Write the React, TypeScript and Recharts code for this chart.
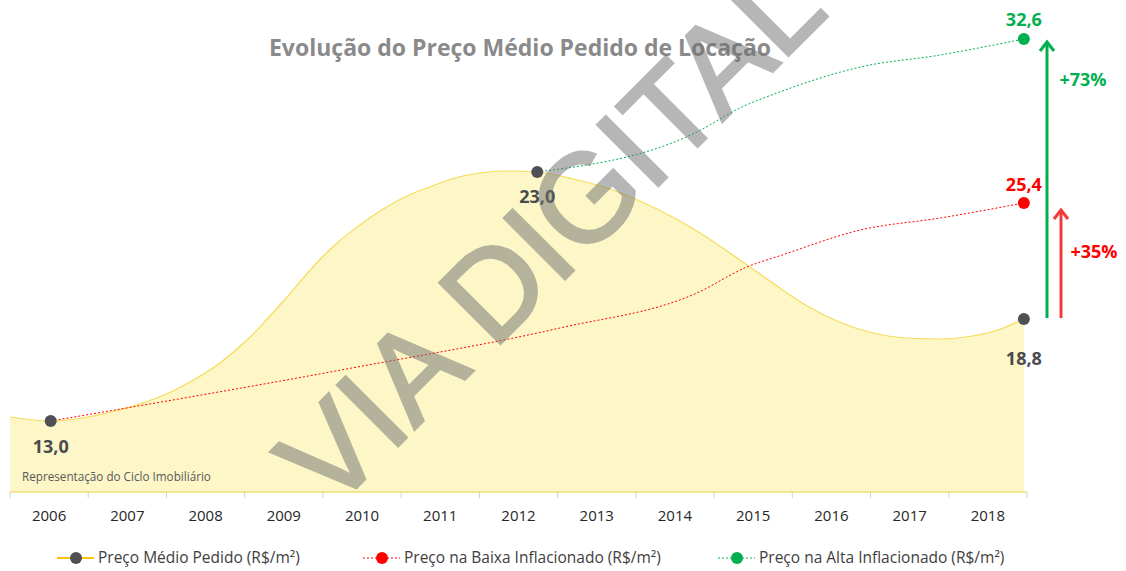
import React from "react";
import { ComposedChart, Area, Line, XAxis, YAxis } from "recharts";

// layout of the picture
const W = 1126;
const H = 571;
const PLOT_LEFT = 10;
const PLOT_RIGHT = 1027;
const PLOT_TOP = 32;
const PLOT_BOTTOM = 492;
const X_MIN = 2006;
const X_MAX = 2019;
const Y_MAX = 46;
const FONT = "'Open Sans', 'Noto Sans', sans-serif";

// category boundaries and year labels
const yearTicks = [2006, 2007, 2008, 2009, 2010, 2011, 2012, 2013, 2014, 2015, 2016, 2017, 2018, 2019];
const yearLabels = ["2006", "2007", "2008", "2009", "2010", "2011", "2012", "2013", "2014", "2015", "2016", "2017", "2018"];

// "Representação do Ciclo Imobiliário" – shape of the cycle (chart units, not R$/m²)
const ciclo = [
  { x: 2006.0, y: 7.5 },
  { x: 2006.52, y: 7.1 },
  { x: 2007.24, y: 7.9 },
  { x: 2008.16, y: 10.4 },
  { x: 2008.7, y: 13.0 },
  { x: 2009.07, y: 15.5 },
  { x: 2009.3, y: 17.4 },
  { x: 2009.53, y: 19.4 },
  { x: 2009.76, y: 21.5 },
  { x: 2009.98, y: 23.4 },
  { x: 2010.21, y: 25.1 },
  { x: 2010.44, y: 26.5 },
  { x: 2010.73, y: 28.1 },
  { x: 2011.02, y: 29.4 },
  { x: 2011.36, y: 30.5 },
  { x: 2011.69, y: 31.4 },
  { x: 2012.0, y: 31.9 },
  { x: 2012.35, y: 32.1 },
  { x: 2012.74, y: 32.0 },
  { x: 2013.2, y: 31.3 },
  { x: 2013.63, y: 30.4 },
  { x: 2014.05, y: 29.1 },
  { x: 2014.47, y: 27.5 },
  { x: 2014.9, y: 25.5 },
  { x: 2015.33, y: 23.2 },
  { x: 2015.75, y: 20.9 },
  { x: 2016.19, y: 18.6 },
  { x: 2016.6, y: 17.0 },
  { x: 2017.03, y: 15.9 },
  { x: 2017.45, y: 15.4 },
  { x: 2017.89, y: 15.3 },
  { x: 2018.3, y: 15.6 },
  { x: 2018.63, y: 16.2 },
  { x: 2018.96, y: 17.3 },
];

// Preço Médio Pedido – marked points and their labels
const precoMedio = [
  { x: 2006.52, y: 7.1 },
  { x: 2012.74, y: 32.0 },
  { x: 2018.96, y: 17.3 },
];
const precoMedioLabels = ["13,0", "23,0", "18,8"];

// Preço na Baixa Inflacionado
const precoBaixa = [
  { x: 2006.52, y: 7.1 },
  { x: 2010.44, y: 12.5 },
  { x: 2013.03, y: 16.4 },
  { x: 2014.78, y: 19.9 },
  { x: 2015.42, y: 22.5 },
  { x: 2015.87, y: 23.7 },
  { x: 2016.87, y: 26.2 },
  { x: 2017.89, y: 27.4 },
  { x: 2018.96, y: 28.9 },
];
const precoBaixaLabel = "25,4";

// Preço na Alta Inflacionado
const precoAlta = [
  { x: 2012.74, y: 32.0 },
  { x: 2014.78, y: 36.0 },
  { x: 2015.33, y: 38.4 },
  { x: 2015.84, y: 40.0 },
  { x: 2016.87, y: 42.5 },
  { x: 2017.89, y: 43.7 },
  { x: 2018.96, y: 45.3 },
];
const precoAltaLabel = "32,6";

const variacaoBaixa = "+35%";
const variacaoAlta = "+73%";

const GREEN = "#00B050";
const RED = "#FF0000";
const GRAY_DOT = "#4F4F55";

const py = (y: number) => PLOT_BOTTOM - (y / Y_MAX) * (PLOT_BOTTOM - PLOT_TOP);

const labelGap = [32, 31, 46];

const YearTick = (props: any) => {
  const { x, payload } = props;
  const catW = (PLOT_RIGHT - PLOT_LEFT) / yearLabels.length;
  const i = yearTicks.indexOf(payload.value);
  return (
    <g>
      <line x1={x} y1={PLOT_BOTTOM} x2={x} y2={PLOT_BOTTOM + 6} stroke="#D0D0D0" />
      {i >= 0 && i < yearLabels.length && (
        <text x={x + catW / 2} y={PLOT_BOTTOM + 29} textAnchor="middle" fontSize={15} fill="#262626" fontFamily={FONT}>
          {yearLabels[i]}
        </text>
      )}
    </g>
  );
};

const last = <T,>(a: T[]) => a[a.length - 1];

function Arrow({ x, y1, y2, color }: { x: number; y1: number; y2: number; color: string }) {
  return (
    <g stroke={color} strokeWidth={3} fill="none" strokeLinecap="butt">
      <line x1={x} y1={y1} x2={x} y2={y2 + 1} />
      <polyline points={`${x - 7},${y2 + 10} ${x},${y2 + 1} ${x + 7},${y2 + 10}`} strokeLinejoin="miter" />
    </g>
  );
}

const legendItems = [
  { name: "Preço Médio Pedido (R$/m²)", line: "#FFC000", dot: GRAY_DOT, dashed: false, x: 57 },
  { name: "Preço na Baixa Inflacionado (R$/m²)", line: RED, dot: RED, dashed: true, x: 363 },
  { name: "Preço na Alta Inflacionado (R$/m²)", line: GREEN, dot: GREEN, dashed: true, x: 718 },
];

export default function App() {
  const baseY = py(last(precoMedio).y);
  return (
    <div style={{ position: "absolute", left: 0, top: 0, width: W, height: H, background: "#fff", fontFamily: FONT }}>
      <ComposedChart width={W} height={H} margin={{ top: PLOT_TOP, right: W - PLOT_RIGHT, left: PLOT_LEFT, bottom: H - PLOT_BOTTOM - 30 }}>
        <XAxis
          type="number"
          dataKey="x"
          domain={[X_MIN, X_MAX]}
          ticks={yearTicks}
          interval={0}
          height={30}
          tickLine={false}
          axisLine={{ stroke: "#F2DE74", strokeWidth: 1.5 }}
          tick={<YearTick />}
        />
        <YAxis type="number" hide domain={[0, Y_MAX]} />
        <Area
          data={ciclo}
          dataKey="y"
          type="monotone"
          fill="#FDF7C8"
          fillOpacity={1}
          stroke="#F5DC5A"
          strokeWidth={1.2}
          dot={false}
          activeDot={false}
          isAnimationActive={false}
        />
        <Line
          data={precoBaixa}
          dataKey="y"
          type="monotone"
          stroke={RED}
          strokeWidth={1}
          strokeDasharray="2 2"
          dot={false}
          activeDot={false}
          isAnimationActive={false}
        />
        <Line
          data={precoAlta}
          dataKey="y"
          type="monotone"
          stroke={GREEN}
          strokeWidth={1}
          strokeDasharray="2 2"
          dot={false}
          activeDot={false}
          isAnimationActive={false}
        />
        <Line
          data={[last(precoBaixa)]}
          dataKey="y"
          stroke="none"
          dot={{ r: 6, fill: RED, stroke: "none" }}
          activeDot={false}
          isAnimationActive={false}
          label={(p: any) => (
            <text key="lb" x={p.x} y={p.y - 12} textAnchor="middle" fontSize={18} fontWeight={700} fill={RED} fontFamily={FONT}>
              {precoBaixaLabel}
            </text>
          )}
        />
        <Line
          data={[last(precoAlta)]}
          dataKey="y"
          stroke="none"
          dot={{ r: 6, fill: GREEN, stroke: "none" }}
          activeDot={false}
          isAnimationActive={false}
          label={(p: any) => (
            <text key="la" x={p.x} y={p.y - 13} textAnchor="middle" fontSize={18} fontWeight={700} fill={GREEN} fontFamily={FONT}>
              {precoAltaLabel}
            </text>
          )}
        />
        <Line
          data={precoMedio}
          dataKey="y"
          stroke="none"
          dot={{ r: 6, fill: GRAY_DOT, stroke: "none" }}
          activeDot={false}
          isAnimationActive={false}
          label={(p: any) => (
            <text key={`lm${p.index}`} x={p.x} y={p.y + labelGap[p.index]} textAnchor="middle" fontSize={18} fontWeight={700} fill="#4A4A50" fontFamily={FONT}>
              {precoMedioLabels[p.index]}
            </text>
          )}
        />
      </ComposedChart>

      <svg width={W} height={H} style={{ position: "absolute", left: 0, top: 0, pointerEvents: "none" }} fontFamily={FONT}>
        <text x={520} y={56} textAnchor="middle" fontSize={23} fontWeight={700} fill="#8A8A8A">
          Evolução do Preço Médio Pedido de Locação
        </text>
        <text x={22} y={481} fontSize={11.7} fill="#595959">
          Representação do Ciclo Imobiliário
        </text>

        <Arrow x={1047} y1={baseY - 1} y2={py(last(precoAlta).y) + 2} color={GREEN} />
        <Arrow x={1061} y1={baseY - 1} y2={py(last(precoBaixa).y) + 6} color="#F23A3A" />
        <text x={1083} y={86} textAnchor="middle" fontSize={18} fontWeight={700} fill={GREEN}>
          {variacaoAlta}
        </text>
        <text x={1094} y={258} textAnchor="middle" fontSize={18} fontWeight={700} fill={RED}>
          {variacaoBaixa}
        </text>

        {legendItems.map((it) => (
          <g key={it.name}>
            <line
              x1={it.x}
              y1={558}
              x2={it.x + 37}
              y2={558}
              stroke={it.line}
              strokeWidth={it.dashed ? 1 : 2}
              strokeDasharray={it.dashed ? "2 2" : undefined}
            />
            <circle cx={it.x + 19} cy={558} r={6} fill={it.dot} />
            <text x={it.x + 41} y={563} fontSize={15.5} fill="#404040">
              {it.name}
            </text>
          </g>
        ))}

        <text
          x={331}
          y={513}
          transform="rotate(-45 331 513)"
          fontFamily="'Liberation Sans', Arial, sans-serif"
          fontSize={125}
          fill="#707070"
          stroke="#707070"
          strokeWidth={3}
          opacity={0.5}
        >
          VIA DIGITAL
        </text>
      </svg>
    </div>
  );
}
